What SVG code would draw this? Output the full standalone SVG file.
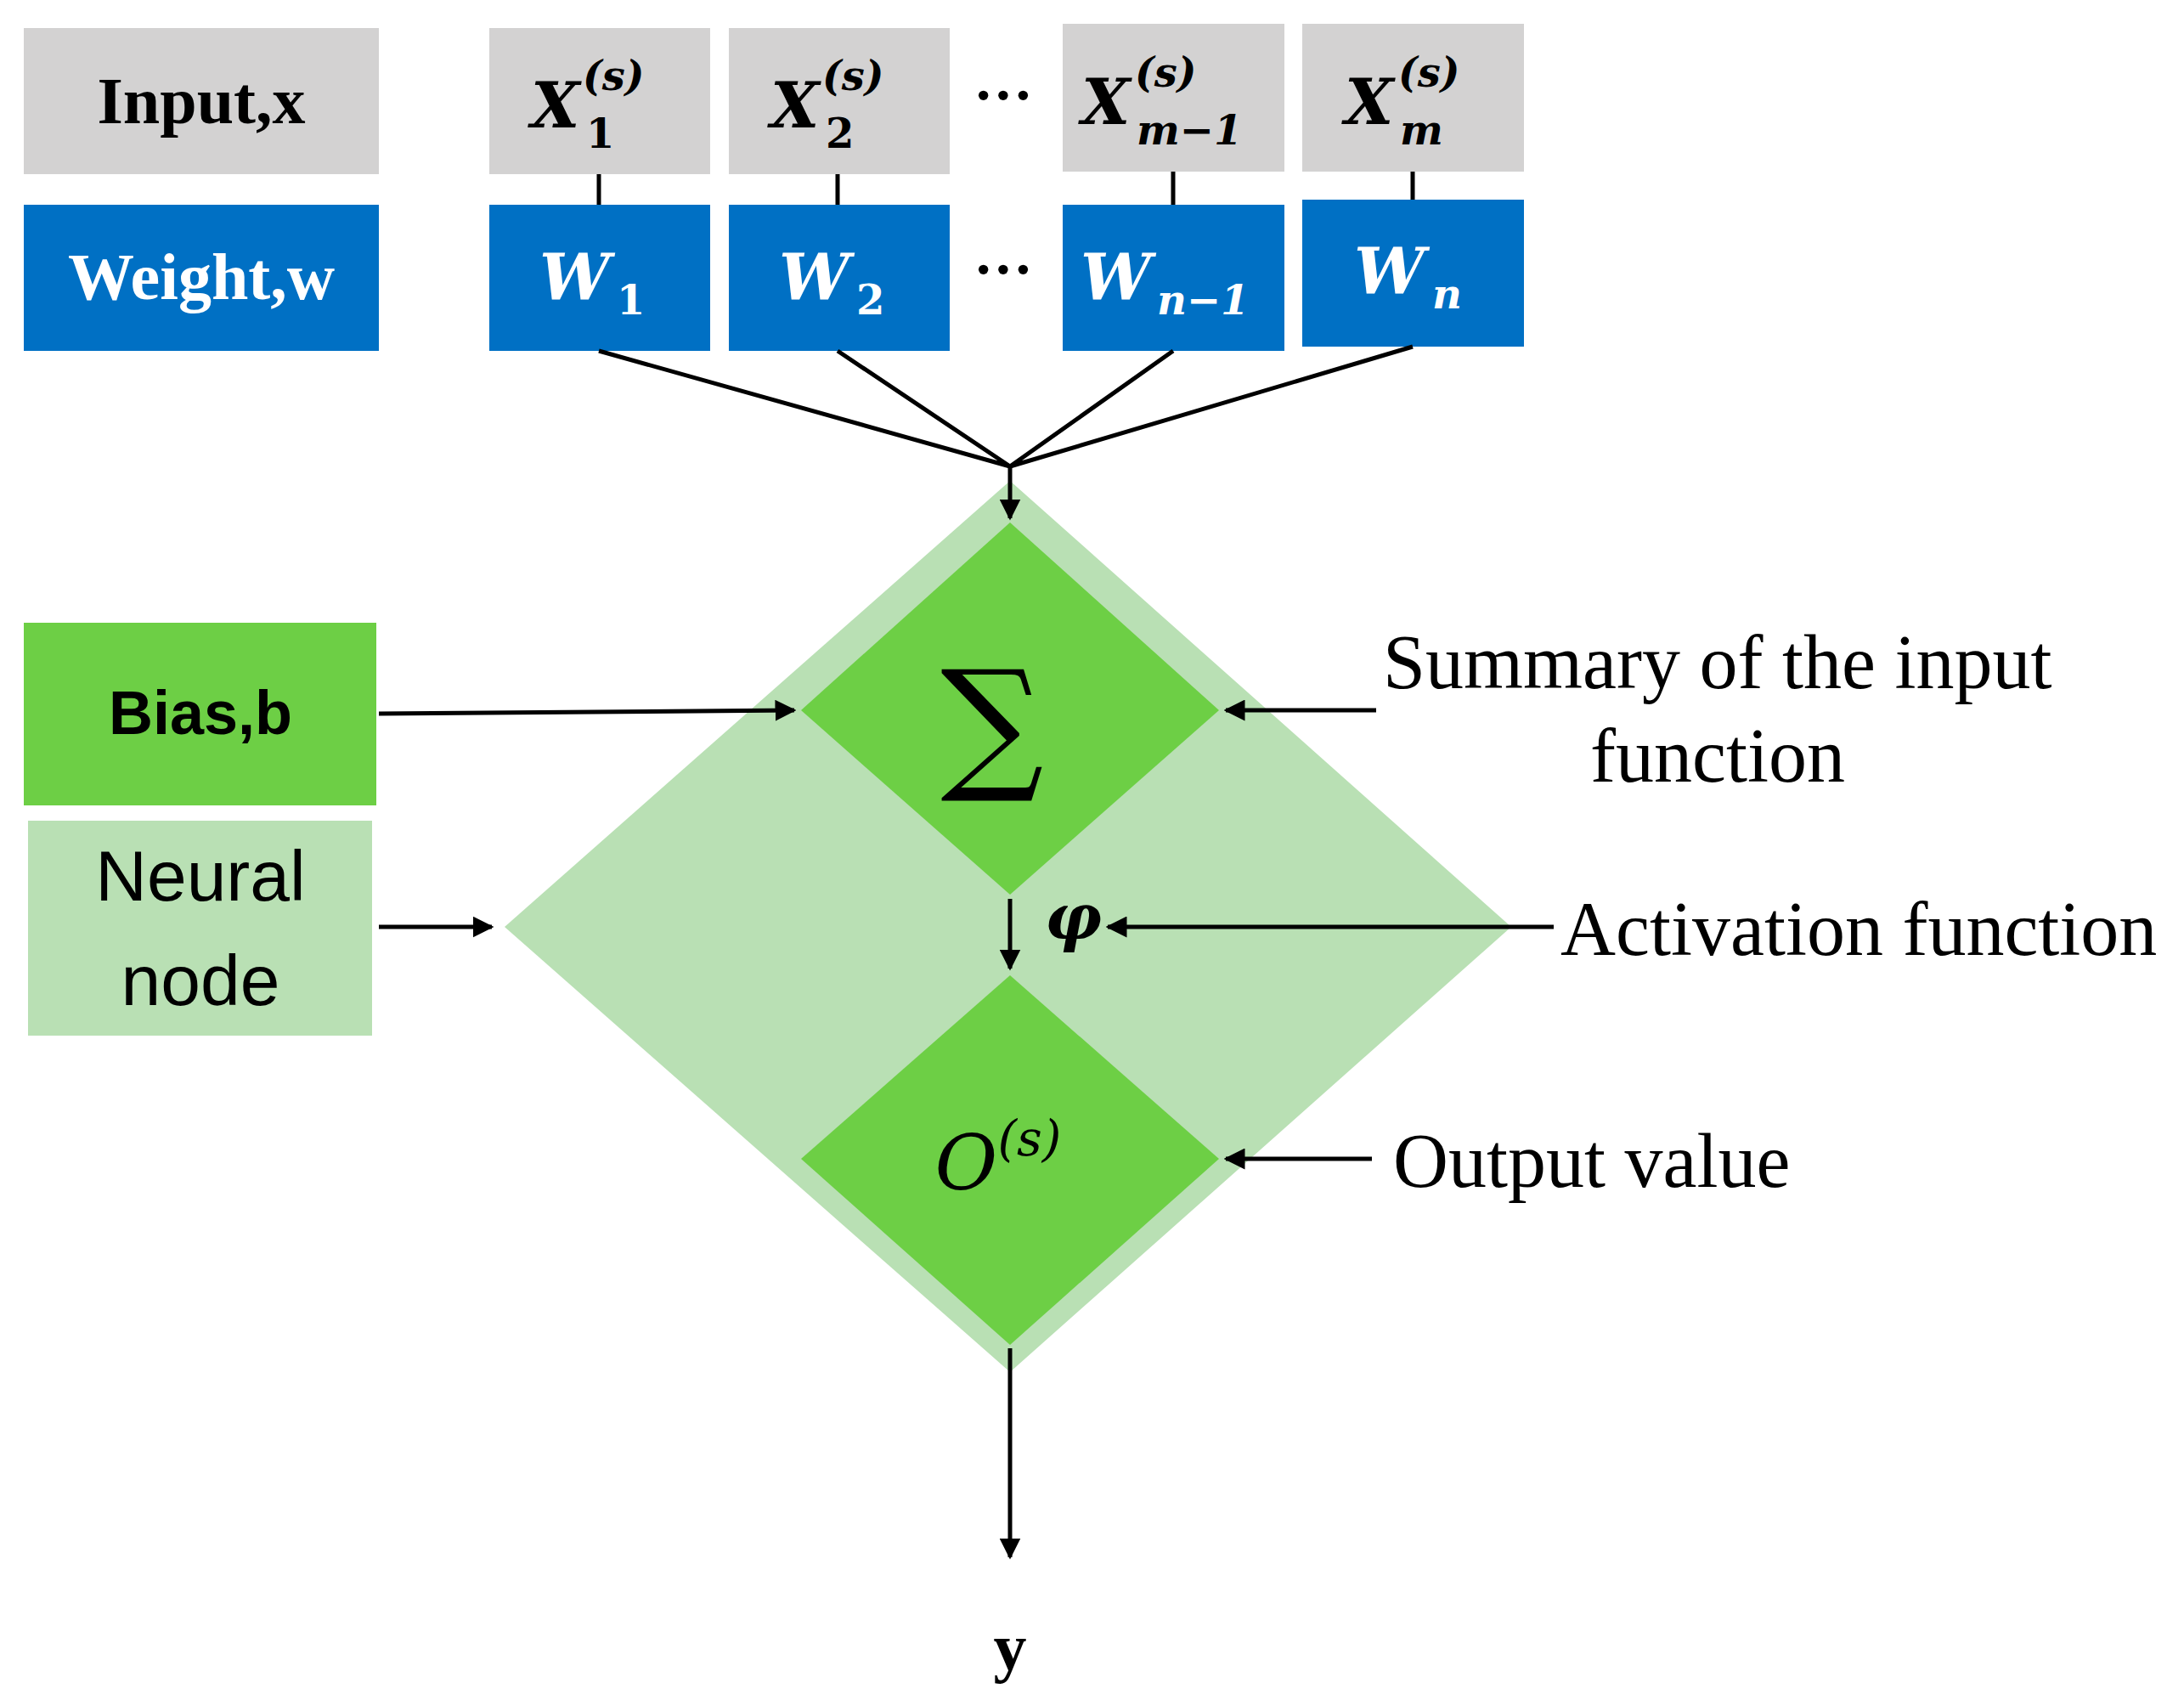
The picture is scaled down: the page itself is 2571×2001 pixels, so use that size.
<svg xmlns="http://www.w3.org/2000/svg" width="2571" height="2001" viewBox="0 0 2571 2001">
<style>
.g{fill:#d3d2d2}.b{fill:#0070c4}.lg{fill:#b9e0b4}.dg{fill:#6dcf45}
.ln{stroke:#000;stroke-width:5;fill:none}
.lb{font-family:"Liberation Serif",serif;font-weight:bold;font-size:78px;text-anchor:middle}
.m{font-family:"DejaVu Serif",serif;font-weight:bold;font-style:italic;font-size:74px}
.sb{font-family:"DejaVu Serif",serif;font-weight:bold;font-size:48px}
.si{font-family:"DejaVu Serif",serif;font-weight:bold;font-style:italic;font-size:48px}
.w{fill:#fff}
.t{font-family:"Liberation Serif",serif;font-size:90px}
</style>
<defs><marker id="a" viewBox="0 0 10 10" refX="9" refY="5" markerWidth="5" markerHeight="5" orient="auto"><path d="M0,0L10,5L0,10z"/></marker></defs>
<g id="input"><rect class="g" x="28" y="33" width="418" height="172"/><text class="lb" x="237" y="145">Input,x</text></g>
<g id="weight"><rect class="b" x="28" y="241" width="418" height="172"/><text class="lb w" x="237" y="352">Weight,w</text></g>
<g id="x1"><rect class="g" x="576" y="33" width="260" height="172"/><text class="m" x="625" y="150">X</text><text class="sb" x="690" y="174">1</text><text class="si" x="686" y="106">(s)</text></g>
<g id="x2"><rect class="g" x="858" y="33" width="260" height="172"/><text class="m" x="907" y="150">X</text><text class="sb" x="972" y="174">2</text><text class="si" x="968" y="106">(s)</text></g>
<g id="xm1"><rect class="g" x="1251" y="28" width="261" height="174"/><text class="m" x="1273" y="146">X</text><text class="si" x="1338" y="170">m−1</text><text class="si" x="1336" y="102">(s)</text></g>
<g id="xm"><rect class="g" x="1533" y="28" width="261" height="174"/><text class="m" x="1583" y="146">X</text><text class="si" x="1648" y="170">m</text><text class="si" x="1646" y="102">(s)</text></g>
<g id="w1"><rect class="b" x="576" y="241" width="260" height="172"/><text class="m w" x="635" y="352">W</text><text class="sb w" x="726" y="370">1</text></g>
<g id="w2"><rect class="b" x="858" y="241" width="260" height="172"/><text class="m w" x="917" y="352">W</text><text class="sb w" x="1008" y="370">2</text></g>
<g id="wn1"><rect class="b" x="1251" y="241" width="261" height="172"/><text class="m w" x="1272" y="352">W</text><text class="si w" x="1362" y="370">n−1</text></g>
<g id="wn"><rect class="b" x="1533" y="235" width="261" height="173"/><text class="m w" x="1594" y="345">W</text><text class="si w" x="1686" y="363">n</text></g>
<g id="dots" font-family="Liberation Serif,serif" font-size="70" font-weight="bold" text-anchor="middle"><text x="1181" y="135">···</text><text x="1181" y="340">···</text></g>
<g id="node"><polygon class="lg" points="1189,566 1779,1091 1189,1615 594,1091"/>
<polygon class="dg" points="1189,615 1435,836 1189,1053 943,836"/>
<polygon class="dg" points="1189,1148 1435,1364 1189,1583 943,1364"/>
<text x="1168" y="910" font-family="DejaVu Serif,serif" font-size="170" text-anchor="middle">∑</text>
<text x="1175" y="1400" font-family="DejaVu Serif,serif" font-style="italic" font-size="90" text-anchor="middle">O<tspan font-size="58" dy="-40">(s)</tspan></text></g>
<g id="bias"><rect class="dg" x="28" y="733" width="415" height="215"/><text x="236" y="864" font-family="Liberation Sans,sans-serif" font-weight="bold" font-size="72" text-anchor="middle">Bias,b</text></g>
<g id="neural"><rect class="lg" x="33" y="966" width="405" height="253"/><text font-family="Liberation Sans,sans-serif" font-size="84" text-anchor="middle"><tspan x="236" y="1060">Neural</tspan><tspan x="236" y="1183">node</tspan></text></g>
<g id="labels" class="t"><text x="1628" y="810">Summary of the input</text><text x="2022" y="920" text-anchor="middle">function</text><text x="1837" y="1124">Activation function</text><text x="1640" y="1397">Output value</text>
<text x="1230" y="1105" class="m" font-size="62">φ</text><text x="1189" y="1965" class="lb">y</text></g>
<g id="connectors" class="ln">
<path d="M705,205V241M986,205V241M1381,202V241M1663,202V235"/>
<path d="M705,413L1189,549M986,413L1189,549M1381,413L1189,549M1663,408L1189,549"/>
<path d="M1189,549V610" marker-end="url(#a)"/>
<path d="M446,840L935,836" marker-end="url(#a)"/>
<path d="M446,1091H579" marker-end="url(#a)"/>
<path d="M1620,836H1443" marker-end="url(#a)"/>
<path d="M1829,1091H1304" marker-end="url(#a)"/>
<path d="M1615,1364H1443" marker-end="url(#a)"/>
<path d="M1189,1058V1140" marker-end="url(#a)"/>
<path d="M1189,1587V1833" marker-end="url(#a)"/>
</g>
</svg>
